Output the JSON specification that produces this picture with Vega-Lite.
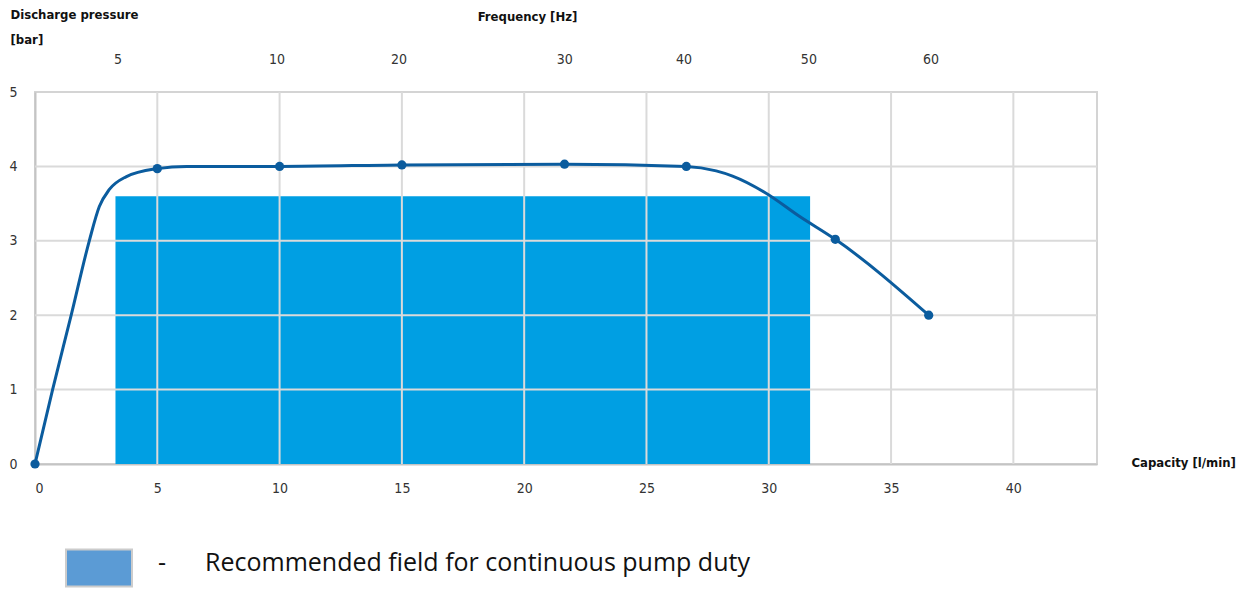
{
  "$schema": "https://vega.github.io/schema/vega-lite/v6.json",
  "width": 1062,
  "height": 372,
  "autosize": {"type": "none"},
  "padding": {"left": 35, "top": 92, "right": 147, "bottom": 126},
  "background": "white",
  "config": {
    "view": {"stroke": "#d4d4d4", "strokeWidth": 2},
    "axis": {
      "labelFont": "DejaVu Sans Condensed, Roboto, sans-serif",
      "labelFontSize": 14,
      "labelColor": "#333333",
      "titleFont": "DejaVu Sans Condensed, Roboto, sans-serif",
      "titleFontSize": 13,
      "titleFontWeight": "bold",
      "titleColor": "#111111",
      "ticks": false,
      "grid": false
    }
  },
  "datasets": {
    "field": [{"x0": 3.29, "x1": 31.69, "y0": 0, "y1": 3.6, "label": "Recommended field for continuous pump duty"}],
    "gridx": [{"gx": 5}, {"gx": 10}, {"gx": 15}, {"gx": 20}, {"gx": 25}, {"gx": 30}, {"gx": 35}, {"gx": 40}],
    "gridy": [{"gy": 1}, {"gy": 2}, {"gy": 3}, {"gy": 4}],
    "curve": [
      {"cap": 0, "p": 0},
      {"cap": 0.72, "p": 1.0},
      {"cap": 1.48, "p": 2.0},
      {"cap": 2.22, "p": 3.0},
      {"cap": 2.63, "p": 3.46},
      {"cap": 3.04, "p": 3.69},
      {"cap": 3.72, "p": 3.86},
      {"cap": 5.0, "p": 3.97},
      {"cap": 6.2, "p": 4.0},
      {"cap": 10.0, "p": 4.0},
      {"cap": 15.0, "p": 4.02},
      {"cap": 21.65, "p": 4.03},
      {"cap": 26.63, "p": 4.0},
      {"cap": 27.85, "p": 3.94},
      {"cap": 28.52, "p": 3.87},
      {"cap": 29.89, "p": 3.64},
      {"cap": 31.25, "p": 3.33},
      {"cap": 32.72, "p": 3.02},
      {"cap": 36.54, "p": 2.0}
    ],
    "dots": [
      {"cap": 0, "p": 0},
      {"cap": 5.0, "p": 3.97},
      {"cap": 10.0, "p": 4.0},
      {"cap": 15.0, "p": 4.02},
      {"cap": 21.65, "p": 4.03},
      {"cap": 26.63, "p": 4.0},
      {"cap": 32.72, "p": 3.02},
      {"cap": 36.54, "p": 2.0}
    ]
  },
  "layer": [
    {
      "data": {"name": "field"},
      "mark": {"type": "rect", "fill": "#009FE3", "opacity": 1},
      "encoding": {
        "x": {
          "field": "x0", "type": "quantitative",
          "scale": {"domain": [0, 43.42], "nice": false, "zero": false},
          "axis": {
            "orient": "bottom",
            "values": [0, 5, 10, 15, 20, 25, 30, 35, 40],
            "labelPadding": 17,
            "domainColor": "#c4c4c4",
            "domainWidth": 2,
            "title": "Capacity [l/min]",
            "titleX": 1096,
            "titleY": -2,
            "titleAlign": "left",
            "titleBaseline": "middle",
            "titleAnchor": null
          }
        },
        "x2": {"field": "x1"},
        "y": {
          "field": "y0", "type": "quantitative",
          "scale": {"domain": [0, 5], "nice": false},
          "axis": {
            "orient": "left",
            "values": [0, 1, 2, 3, 4, 5],
            "labelPadding": 18,
            "domainColor": "#c4c4c4",
            "domainWidth": 2,
            "title": ["Discharge pressure", "[bar]"],
            "titleAngle": 0,
            "titleAlign": "left",
            "titleBaseline": "top",
            "titleX": -25,
            "titleY": -84,
            "titleLineHeight": 25,
            "titleAnchor": null
          }
        },
        "y2": {"field": "y1"}
      }
    },
    {
      "data": {"name": "field"},
      "mark": {"type": "rect"},
      "encoding": {
        "x": {"field": "x0", "type": "quantitative", "scale": {"domain": [0, 43.42], "nice": false, "zero": false}, "axis": null},
        "x2": {"field": "x0"},
        "y": {"field": "y0", "type": "quantitative", "scale": {"domain": [0, 5], "nice": false}, "axis": null},
        "y2": {"field": "y0"},
        "color": {
          "field": "label", "type": "nominal",
          "scale": {"range": ["#5B9BD5"]},
          "legend": {
            "orient": "none",
            "legendX": 30,
            "legendY": 442,
            "title": null,
            "symbolType": "M-1,-0.56H1V0.56H-1Z",
            "symbolSize": 4356,
            "symbolStrokeWidth": 2,
            "symbolStrokeColor": "#cccccc",
            "symbolOpacity": 1,
            "labelFont": "Open Sans",
            "labelFontSize": 25,
            "labelColor": "#111111",
            "labelLimit": 0,
            "labelOffset": 25,
            "labelExpr": "'-\u00a0\u00a0\u00a0\u00a0\u00a0\u00a0' + datum.label",
            "encode": {
              "symbols": {
                "update": {
                  "stroke": {"value": "#cccccc"},
                  "strokeWidth": {"value": 2},
                  "opacity": {"value": 1}
                }
              },
              "labels": {
                "update": {
                  "dy": {"value": -5}
                }
              }
            }
          }
        }
      }
    },
    {
      "data": {"name": "gridx"},
      "mark": {"type": "rule", "color": "#dadada", "strokeWidth": 2},
      "encoding": {
        "x": {
          "field": "gx", "type": "quantitative",
          "scale": {"domain": [0, 43.42], "nice": false, "zero": false},
          "axis": {
            "orient": "top",
            "values": [3.37, 9.87, 14.86, 21.64, 26.51, 31.62, 36.61],
            "labelExpr": "{'3.37':'5','9.87':'10','14.86':'20','21.64':'30','26.51':'40','31.62':'50','36.61':'60'}[datum.value]",
            "labelPadding": 26,
            "domain": false,
            "title": "Frequency [Hz]",
            "titleX": 492,
            "titleY": -76,
            "titleAlign": "center",
            "titleBaseline": "middle",
            "titleAnchor": null
          }
        }
      }
    },
    {
      "data": {"name": "gridy"},
      "mark": {"type": "rule", "color": "#dadada", "strokeWidth": 2},
      "encoding": {
        "y": {"field": "gy", "type": "quantitative", "scale": {"domain": [0, 5], "nice": false}, "axis": null}
      }
    },
    {
      "data": {"name": "curve"},
      "mark": {"type": "line", "interpolate": "monotone", "color": "#0B5C9E", "strokeWidth": 3},
      "encoding": {
        "x": {"field": "cap", "type": "quantitative", "scale": {"domain": [0, 43.42], "nice": false, "zero": false}, "axis": null},
        "y": {"field": "p", "type": "quantitative", "scale": {"domain": [0, 5], "nice": false}, "axis": null}
      }
    },
    {
      "data": {"name": "dots"},
      "mark": {"type": "circle", "color": "#0B5C9E", "size": 85, "opacity": 1, "clip": false},
      "encoding": {
        "x": {"field": "cap", "type": "quantitative", "scale": {"domain": [0, 43.42], "nice": false, "zero": false}, "axis": null},
        "y": {"field": "p", "type": "quantitative", "scale": {"domain": [0, 5], "nice": false}, "axis": null}
      }
    }
  ],
  "resolve": {"axis": {"x": "independent", "y": "independent"}}
}
